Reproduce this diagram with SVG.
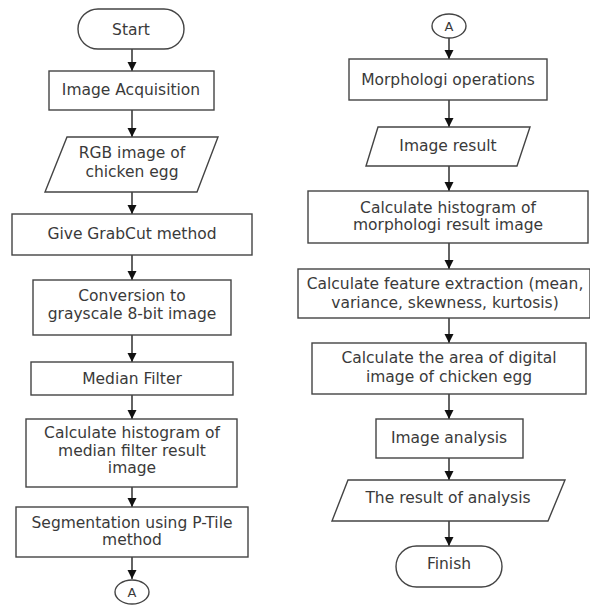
<svg xmlns="http://www.w3.org/2000/svg" width="590" height="606" viewBox="0 0 590 606">
<defs>
<marker id="ah" viewBox="0 0 10 10" refX="10" refY="5" markerWidth="9" markerHeight="10" markerUnits="userSpaceOnUse" orient="auto">
<path d="M0,0 L10,5 L0,10 Z" fill="#111"/>
</marker>
<style>
.s{fill:#fff;stroke:#444;stroke-width:1.4}
.t{font-family:"DejaVu Sans",sans-serif;font-size:15.5px;fill:#3a3a3a;text-anchor:middle}
.a{font-size:13px}
.c{stroke:#222;stroke-width:1.4;fill:none;marker-end:url(#ah)}
</style>
</defs>
<rect width="590" height="606" fill="#fff"/>
<g id="connectors">
<line class="c" x1="132" y1="49" x2="132" y2="71"/>
<line class="c" x1="132" y1="110" x2="132" y2="137"/>
<line class="c" x1="132" y1="192" x2="132" y2="214"/>
<line class="c" x1="132" y1="255" x2="132" y2="280"/>
<line class="c" x1="132" y1="335" x2="132" y2="362"/>
<line class="c" x1="132" y1="395" x2="132" y2="419"/>
<line class="c" x1="132" y1="487" x2="132" y2="507"/>
<line class="c" x1="132" y1="557" x2="132" y2="579"/>
<line class="c" x1="449" y1="38" x2="449" y2="59"/>
<line class="c" x1="449" y1="100" x2="449" y2="127"/>
<line class="c" x1="449" y1="166" x2="449" y2="191"/>
<line class="c" x1="449" y1="243" x2="449" y2="269"/>
<line class="c" x1="449" y1="318" x2="449" y2="343"/>
<line class="c" x1="449" y1="394" x2="449" y2="419"/>
<line class="c" x1="449" y1="458" x2="449" y2="480"/>
<line class="c" x1="449" y1="521" x2="449" y2="546"/>
</g>
<g id="start"><rect class="s" x="78" y="9" width="106" height="40" rx="20" ry="20"/><text class="t" x="131" y="35">Start</text></g>
<g id="acq"><rect class="s" x="49" y="71" width="165" height="39"/><text class="t" x="131" y="95">Image Acquisition</text></g>
<g id="rgb"><polygon class="s" points="67,137 218,137 197,192 45,192"/><text class="t" x="132" y="158">RGB image of</text><text class="t" x="132" y="177">chicken egg</text></g>
<g id="grabcut"><rect class="s" x="12" y="214" width="240" height="41"/><text class="t" x="132" y="239">Give GrabCut method</text></g>
<g id="gray"><rect class="s" x="33" y="280" width="198" height="55"/><text class="t" x="132" y="301">Conversion to</text><text class="t" x="132" y="319">grayscale 8-bit image</text></g>
<g id="median"><rect class="s" x="31" y="362" width="202" height="33"/><text class="t" x="132" y="384">Median Filter</text></g>
<g id="hist1"><rect class="s" x="26" y="419" width="211" height="68"/><text class="t" x="132" y="438">Calculate histogram of</text><text class="t" x="132" y="456">median filter result</text><text class="t" x="132" y="473">image</text></g>
<g id="seg"><rect class="s" x="16" y="507" width="232" height="50"/><text class="t" x="132" y="528">Segmentation using P-Tile</text><text class="t" x="132" y="545">method</text></g>
<g id="connA1"><ellipse class="s" cx="132" cy="592" rx="17" ry="12"/><text class="t a" x="132" y="597">A</text></g>
<g id="connA2"><ellipse class="s" cx="449" cy="26" rx="17" ry="12"/><text class="t a" x="449" y="31">A</text></g>
<g id="morph"><rect class="s" x="349" y="59" width="198" height="41"/><text class="t" x="448" y="85">Morphologi operations</text></g>
<g id="imgres"><polygon class="s" points="378,127 530,127 517,166 366,166"/><text class="t" x="448" y="151">Image result</text></g>
<g id="hist2"><rect class="s" x="308" y="191" width="280" height="52"/><text class="t" x="448" y="213">Calculate histogram of</text><text class="t" x="448" y="230">morphologi result image</text></g>
<g id="feat"><rect class="s" x="298" y="269" width="292" height="49"/><text class="t" x="445" y="289">Calculate feature extraction (mean,</text><text class="t" x="445" y="308">variance, skewness, kurtosis)</text></g>
<g id="area"><rect class="s" x="312" y="343" width="274" height="51"/><text class="t" x="449" y="363">Calculate the area of digital</text><text class="t" x="449" y="382">image of chicken egg</text></g>
<g id="analysis"><rect class="s" x="376" y="419" width="147" height="39"/><text class="t" x="449" y="443">Image analysis</text></g>
<g id="result"><polygon class="s" points="348,480 565,480 548,521 332,521"/><text class="t" x="448" y="503">The result of analysis</text></g>
<g id="finish"><rect class="s" x="396" y="546" width="106" height="41" rx="20.5" ry="20.5"/><text class="t" x="449" y="569">Finish</text></g>
</svg>
